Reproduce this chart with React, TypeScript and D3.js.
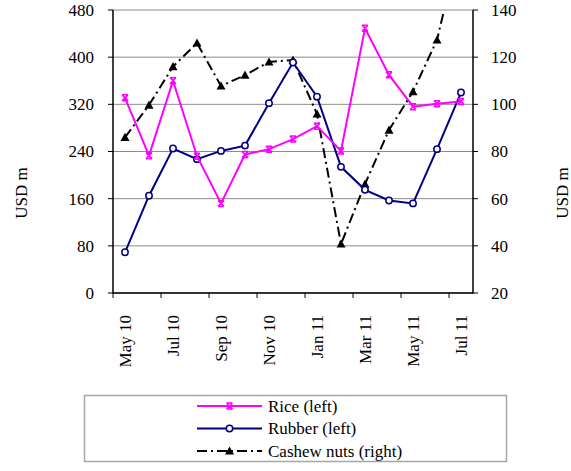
import React from "react";
import * as d3 from "d3";

const months = ["May 10","Jun 10","Jul 10","Aug 10","Sep 10","Oct 10","Nov 10","Dec 10","Jan 11","Feb 11","Mar 11","Apr 11","May 11","Jun 11","Jul 11"];
const tickLabels = ["May 10","Jul 10","Sep 10","Nov 10","Jan 11","Mar 11","May 11","Jul 11"];
const rice = [331,233,360,232,152,235,244,261,283,241,449,370,316,321,325];
const rubber = [69,165,245,227,241,250,322,391,333,214,175,157,152,244,340];
const cashew = [86,99.7,116,126,107.8,112.4,118,118.8,95.9,40.8,66.2,89.1,105.4,127.3,170];
const leftTicks = [0,80,160,240,320,400,480];
const rightTicks = [20,40,60,80,100,120,140];
const legendItems = ["Rice (left)","Rubber (left)","Cashew nuts (right)"];

const FONT = '"Liberation Serif", "DejaVu Serif", "Times New Roman", Times, serif';
const L = 113, R = 473, T = 10, B = 293;
const DASH = "10,4,2,4";

function RiceMarker({ x, y }: { x: number; y: number }) {
  const s = 3;
  return (
    <path
      d={`M${x - s},${y - s}L${x + s},${y + s}M${x + s},${y - s}L${x - s},${y + s}M${x - s},${y - s}L${x + s},${y - s}M${x - s},${y + s}L${x + s},${y + s}`}
      stroke="#FF00FF" strokeWidth={1.5} fill="none"
    />
  );
}
function Circ({ x, y }: { x: number; y: number }) {
  return <circle cx={x} cy={y} r={3.2} fill="white" stroke="#000080" strokeWidth={1.5} />;
}
function Tri({ x, y }: { x: number; y: number }) {
  const s = 4.5;
  return <path d={`M${x},${y - s}L${x + s},${y + s * 0.8}L${x - s},${y + s * 0.8}Z`} fill="black" />;
}

export default function App() {
  const x = d3.scaleBand<string>().domain(months).range([L, R]);
  const cx = (m: string) => (x(m) as number) + x.bandwidth() / 2;
  const yL = d3.scaleLinear().domain([0, 480]).range([B, T]);
  const yR = d3.scaleLinear().domain([20, 140]).range([B, T]);

  const lineL = d3.line<number>().x((_, i) => cx(months[i])).y((d) => yL(d));
  const lineR = d3.line<number>().x((_, i) => cx(months[i])).y((d) => yR(d));

  const legendY = [406, 428.5, 451];
  const txt = { fontFamily: FONT, fontSize: 17 } as React.CSSProperties;

  return (
    <svg width={571} height={471} style={{ position: "absolute", left: 0, top: 0, background: "white", fontFamily: FONT }}>
      <defs>
        <clipPath id="plotclip">
          <rect x={L} y={T} width={R - L} height={B - T} />
        </clipPath>
      </defs>
      {leftTicks.map((t) => (
        <line key={"g" + t} x1={L} x2={R} y1={yL(t)} y2={yL(t)} stroke="#8c8c8c" strokeWidth={1} />
      ))}
      <line x1={L} x2={L} y1={T} y2={B + 0.5} stroke="black" strokeWidth={1.5} />
      <line x1={R} x2={R} y1={T} y2={B + 0.5} stroke="black" strokeWidth={1.5} />
      <line x1={L} x2={R} y1={B} y2={B} stroke="black" strokeWidth={1.5} />
      {leftTicks.map((t) => (
        <g key={"lt" + t}>
          <line x1={L - 5} x2={L} y1={yL(t)} y2={yL(t)} stroke="black" strokeWidth={1} />
          <text x={94} y={yL(t)} dy="0.35em" textAnchor="end" style={txt}>{t}</text>
        </g>
      ))}
      {rightTicks.map((t) => (
        <g key={"rt" + t}>
          <line x1={R} x2={R + 5} y1={yR(t)} y2={yR(t)} stroke="black" strokeWidth={1} />
          <text x={491} y={yR(t)} dy="0.35em" textAnchor="start" style={txt}>{t}</text>
        </g>
      ))}
      {months.map((m, i) =>
        i % 2 === 0 ? (
          <line key={"xt" + m} x1={x(m) as number} x2={x(m) as number} y1={B} y2={B + 5} stroke="black" strokeWidth={1} />
        ) : null
      )}
      {tickLabels.map((m) => (
        <text key={"xl" + m} transform={`translate(${cx(m)},${315}) rotate(-90)`} dy="0.35em" textAnchor="end" style={txt}>{m}</text>
      ))}
      <text transform="translate(21,193) rotate(-90)" dy="0.35em" textAnchor="middle" style={txt}>USD m</text>
      <text transform="translate(562,193) rotate(-90)" dy="0.35em" textAnchor="middle" style={txt}>USD m</text>

      <g clipPath="url(#plotclip)">
        <path d={lineR(cashew) as string} fill="none" stroke="black" strokeWidth={2} strokeDasharray={DASH} />
        {cashew.map((v, i) => (yR(v) >= T ? <Tri key={"c" + i} x={cx(months[i])} y={yR(v)} /> : null))}
      </g>
      <path d={lineL(rubber) as string} fill="none" stroke="#000080" strokeWidth={2} />
      {rubber.map((v, i) => <Circ key={"r" + i} x={cx(months[i])} y={yL(v)} />)}
      <path d={lineL(rice) as string} fill="none" stroke="#FF00FF" strokeWidth={2} />
      {rice.map((v, i) => <RiceMarker key={"ri" + i} x={cx(months[i])} y={yL(v)} />)}

      <rect x={84.5} y={395.5} width={422} height={66} fill="none" stroke="#a6a6a6" strokeWidth={1.5} />
      <line x1={197} x2={262} y1={legendY[0]} y2={legendY[0]} stroke="#FF00FF" strokeWidth={2} />
      <RiceMarker x={229.5} y={legendY[0]} />
      <line x1={197} x2={262} y1={legendY[1]} y2={legendY[1]} stroke="#000080" strokeWidth={2} />
      <Circ x={229.5} y={legendY[1]} />
      <line x1={197} x2={262} y1={legendY[2]} y2={legendY[2]} stroke="black" strokeWidth={2} strokeDasharray={DASH} />
      <Tri x={229.5} y={legendY[2]} />
      {legendItems.map((t, i) => (
        <text key={"lg" + i} x={268} y={legendY[i]} dy="0.35em" style={txt}>{t}</text>
      ))}
    </svg>
  );
}
